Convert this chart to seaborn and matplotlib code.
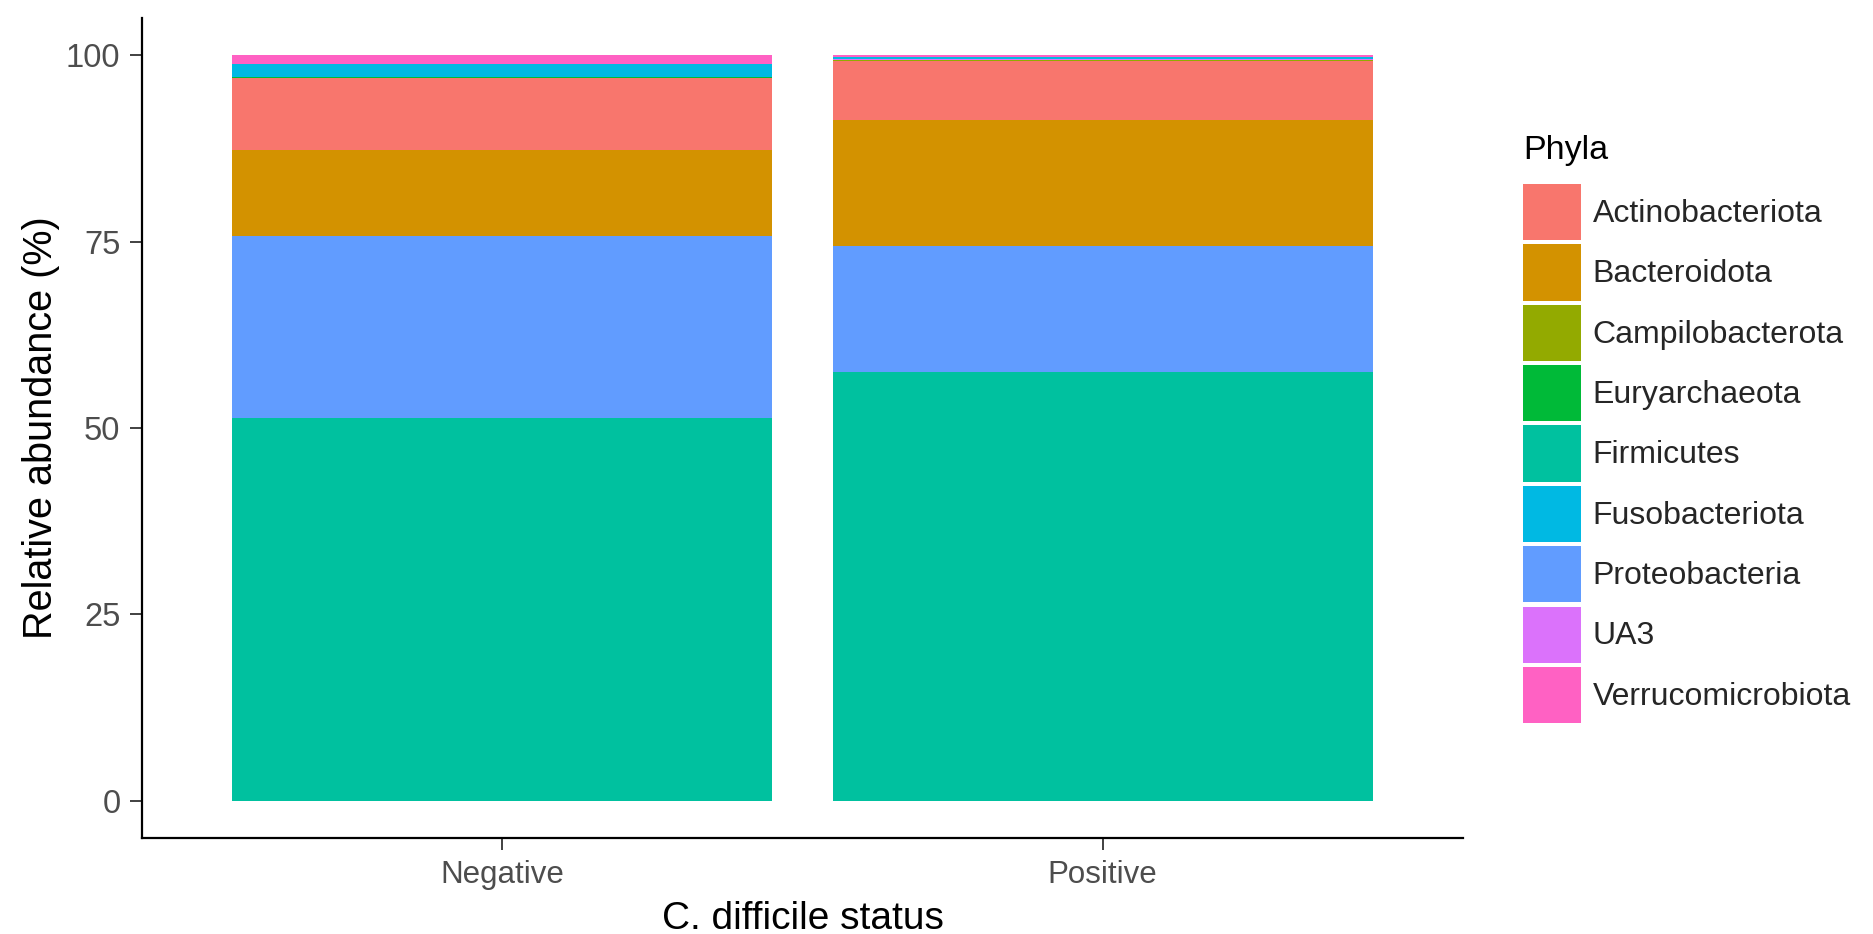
import matplotlib
matplotlib.use("Agg")
import matplotlib.pyplot as plt
from matplotlib.patches import Patch
import seaborn as sns
import pandas as pd
import numpy as np

# ---- data ----
statuses = ["Negative", "Positive"]
phyla_legend = ["Actinobacteriota", "Bacteroidota", "Campilobacterota", "Euryarchaeota",
                "Firmicutes", "Fusobacteriota", "Proteobacteria", "UA3", "Verrucomicrobiota"]
# stacking order, bottom to top
stack_order = ["Firmicutes", "Proteobacteria", "Bacteroidota", "Actinobacteriota",
               "Campilobacterota", "Euryarchaeota", "UA3", "Fusobacteriota", "Verrucomicrobiota"]
firmicutes = [51.3, 57.45]
proteobacteria = [24.5, 17.0]
bacteroidota = [11.55, 16.85]
actinobacteriota = [9.6, 7.9]
campilobacterota = [0.05, 0.10]
euryarchaeota = [0.02, 0.05]
ua3 = [0.01, 0.15]
fusobacteriota = [1.75, 0.25]
verrucomicrobiota = [1.22, 0.25]

colors = {
    "Actinobacteriota": "#F8766D",
    "Bacteroidota": "#D39200",
    "Campilobacterota": "#93AA00",
    "Euryarchaeota": "#00BA38",
    "Firmicutes": "#00C19F",
    "Fusobacteriota": "#00B9E3",
    "Proteobacteria": "#619CFF",
    "UA3": "#DB72FB",
    "Verrucomicrobiota": "#FF61C3",
}

values = {
    "Firmicutes": firmicutes, "Proteobacteria": proteobacteria, "Bacteroidota": bacteroidota,
    "Actinobacteriota": actinobacteriota, "Campilobacterota": campilobacterota,
    "Euryarchaeota": euryarchaeota, "UA3": ua3, "Fusobacteriota": fusobacteriota,
    "Verrucomicrobiota": verrucomicrobiota,
}

rows = []
for s_i, s in enumerate(statuses):
    cum = 0.0
    for p in stack_order:
        cum += values[p][s_i]
        rows.append({"status": s, "phylum": p, "cum": cum})
df = pd.DataFrame(rows)

sns.set_theme(style="white")
plt.rcParams["font.family"] = ["Liberation Sans", "DejaVu Sans"]

W, H = 1873, 934
fig = plt.figure(figsize=(W / 100, H / 100), dpi=100)
ax = fig.add_axes([142 / W, 1 - 838 / H, (1463 - 142) / W, (838 - 18) / H])

for p in reversed(stack_order):
    sub = df[df["phylum"] == p]
    sns.barplot(data=sub, x="status", y="cum", order=statuses, color=colors[p],
                saturation=1, width=0.9, errorbar=None, linewidth=0, ax=ax)

ax.set_xlim(-0.6, 1.6)
ax.set_ylim(-5, 105)
ax.set_yticks([0, 25, 50, 75, 100])
ax.set_xlabel("C. difficile status", fontsize=28, color="black", labelpad=8)
ax.set_ylabel("Relative abundance (%)", fontsize=28.5, color="black", labelpad=4)

for side in ["top", "right"]:
    ax.spines[side].set_visible(False)
for side in ["left", "bottom"]:
    ax.spines[side].set_color("black")
    ax.spines[side].set_linewidth(1.6)

ax.tick_params(axis="both", which="major", length=8.5, width=1.3, color="#333333",
               labelcolor="#4D4D4D", pad=7, left=True, bottom=True)
ax.tick_params(axis="y", labelsize=23.5)
ax.tick_params(axis="x", labelsize=22.5)

fig.text(1523 / W, 1 - 159 / H, "Phyla", fontsize=24.5, color="black",
         ha="left", va="baseline")

handles = [Patch(facecolor=colors[p], edgecolor="none", linewidth=0, label=p) for p in phyla_legend]
fs = 23
leg = fig.legend(handles=handles, loc="upper left", bbox_to_anchor=(1523 / W, 1 - 184 / H),
                 frameon=False, fontsize=fs,
                 handlelength=58 / (fs * 100 / 72), handleheight=2.33,
                 labelspacing=0.13, handletextpad=0.37,
                 borderpad=0, borderaxespad=0)

fig.savefig("out.png", dpi=100, facecolor="white")
